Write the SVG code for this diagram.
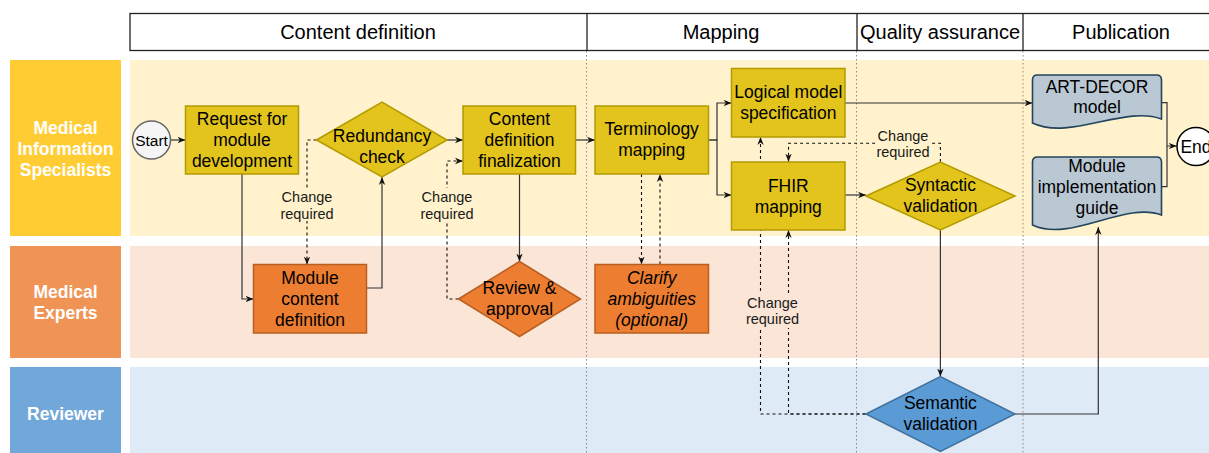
<svg xmlns="http://www.w3.org/2000/svg" width="1209" height="453" viewBox="0 0 1209 453">
<style>
text{font-family:"Liberation Sans",Arial,sans-serif;fill:#000;text-anchor:middle}
.hd{font-size:20px}
.lb{font-size:17.5px;font-weight:bold;fill:#fff}
.t{font-size:17.5px}
.it{font-size:17.5px;font-style:italic}
.cr{font-size:14.5px;fill:#1a1a1a}
.sm{font-size:15.5px}
.ln{fill:none;stroke:#333;stroke-width:1.2}
.ds{fill:none;stroke:#111;stroke-width:1.1;stroke-dasharray:3 3}
.dv{stroke:#888;stroke-width:1;stroke-dasharray:1.5 2.5}
.yb{fill:#E3C41C;stroke:#B39A00;stroke-width:1.5}
.ob{fill:#ED7D31;stroke:#B85F22;stroke-width:1.5}
.doc{fill:#BAC8D3;stroke:#23445D;stroke-width:1.6}
</style>
<defs>
<marker id="a" viewBox="0 0 10 10" refX="10" refY="5" markerWidth="8" markerHeight="8" markerUnits="userSpaceOnUse" orient="auto">
<path d="M0,1 L10,5 L0,9 L3,5 z" fill="#111"/>
</marker>
</defs>
<rect width="1209" height="453" fill="#fff"/>
<g id="header">
<rect x="130" y="13.5" width="1090" height="37" fill="#fff" stroke="#222" stroke-width="1.3"/>
<line x1="587" y1="13.5" x2="587" y2="50.5" stroke="#222" stroke-width="1.3"/>
<line x1="857" y1="13.5" x2="857" y2="50.5" stroke="#222" stroke-width="1.3"/>
<line x1="1023" y1="13.5" x2="1023" y2="50.5" stroke="#222" stroke-width="1.3"/>
<text class="hd" x="358" y="39">Content definition</text>
<text class="hd" x="721" y="39">Mapping</text>
<text class="hd" x="940" y="39">Quality assurance</text>
<text class="hd" x="1121" y="39">Publication</text>
</g>
<g id="lanes">
<rect x="10" y="60" width="111" height="176" fill="#FFCD33"/>
<rect x="130" y="60" width="1079" height="176" fill="#FFF2CC"/>
<rect x="10" y="246" width="111" height="112" fill="#F09456"/>
<rect x="130" y="246" width="1079" height="112" fill="#FBE5D6"/>
<rect x="10" y="367" width="111" height="86" fill="#72A7DA"/>
<rect x="130" y="367" width="1079" height="86" fill="#DEEAF6"/>
<text class="lb" x="65.5" y="133.5">Medical</text>
<text class="lb" x="65.5" y="154.5">Information</text>
<text class="lb" x="65.5" y="175.5">Specialists</text>
<text class="lb" x="65.5" y="297.5">Medical</text>
<text class="lb" x="65.5" y="318.5">Experts</text>
<text class="lb" x="65.5" y="420">Reviewer</text>
<line class="dv" x1="586.5" y1="51" x2="586.5" y2="453"/>
<line class="dv" x1="856.5" y1="51" x2="856.5" y2="453"/>
<line class="dv" x1="1023" y1="51" x2="1023" y2="453"/>
</g>
<g id="connectors">
<path class="ln" d="M170,140 H185.5" marker-end="url(#a)"/>
<path class="ln" d="M447,140 H463" marker-end="url(#a)"/>
<path class="ln" d="M575.5,140 H595" marker-end="url(#a)"/>
<path class="ln" d="M242,174 V299 H253.5" marker-end="url(#a)"/>
<path class="ln" d="M366.5,288 H382 V177" marker-end="url(#a)"/>
<path class="ds" d="M316.5,140 H307 V264.5" marker-end="url(#a)"/>
<path class="ds" d="M458.5,299 H447 V161 H463" marker-end="url(#a)"/>
<path class="ln" d="M519.5,174 V261.5" marker-end="url(#a)"/>
<path class="ln" d="M708.5,140 H717 V103 H731.5" marker-end="url(#a)"/>
<path class="ln" d="M708.5,140 H717 V195 H731.5" marker-end="url(#a)"/>
<path class="ds" d="M641.5,174 V264.5" marker-end="url(#a)"/>
<path class="ds" d="M660,264.5 V174" marker-end="url(#a)"/>
<path class="ln" d="M845,103 H1032.5" marker-end="url(#a)"/>
<path class="ln" d="M845,195 H866" marker-end="url(#a)"/>
<path class="ds" d="M940.4,162 V143.3 H788.5 V161.7" marker-end="url(#a)"/>
<path class="ln" d="M940.4,230 V376.5" marker-end="url(#a)"/>
<path class="ds" d="M865.5,414 H760.5 V137" marker-end="url(#a)"/>
<path class="ds" d="M865.5,414 H788.5 V230" marker-end="url(#a)"/>
<path class="ln" d="M1015,414 H1098.3 V227" marker-end="url(#a)"/>
<path class="ln" d="M1162,102.7 H1167 V146 H1176.7" marker-end="url(#a)"/>
<path class="ln" d="M1162,186.7 H1167 V146"/>
<rect x="280" y="188" width="54" height="33" fill="#FFF2CC"/>
<text class="cr" x="307" y="201.5">Change</text>
<text class="cr" x="307" y="218.5">required</text>
<rect x="420" y="188" width="54" height="33" fill="#FFF2CC"/>
<text class="cr" x="447" y="201.5">Change</text>
<text class="cr" x="447" y="218.5">required</text>
<rect x="876" y="128" width="54" height="31" fill="#FFF2CC"/>
<text class="cr" x="903" y="140.5">Change</text>
<text class="cr" x="903" y="157">required</text>
<rect x="745.5" y="294" width="54" height="34" fill="#FBE5D6"/>
<text class="cr" x="772.5" y="307.5">Change</text>
<text class="cr" x="772.5" y="324">required</text>
</g>
<g id="start">
<circle cx="151.5" cy="140" r="19" fill="#F5F5F5" stroke="#666" stroke-width="1.5"/>
<text class="sm" x="151.5" y="145.5">Start</text>
</g>
<g id="request">
<rect class="yb" x="185.5" y="106" width="113" height="68"/>
<text class="t" x="242" y="124.5">Request for</text>
<text class="t" x="242" y="145.5">module</text>
<text class="t" x="242" y="166.5">development</text>
</g>
<g id="redundancy">
<polygon class="yb" points="316.5,140 382,102 447,140 382,177"/>
<text class="t" x="382" y="141.5">Redundancy</text>
<text class="t" x="382" y="162.5">check</text>
</g>
<g id="contentdef">
<rect class="yb" x="463" y="106" width="112.5" height="68"/>
<text class="t" x="519.5" y="125">Content</text>
<text class="t" x="519.5" y="146">definition</text>
<text class="t" x="519.5" y="167">finalization</text>
</g>
<g id="modulecontent">
<rect class="ob" x="253.5" y="264.5" width="113" height="68.5"/>
<text class="t" x="310" y="283.5">Module</text>
<text class="t" x="310" y="304.5">content</text>
<text class="t" x="310" y="325.5">definition</text>
</g>
<g id="review">
<polygon class="ob" points="458.5,299 519.5,261.5 580.5,299 519.5,336.5"/>
<text class="t" x="519.5" y="294">Review &amp;</text>
<text class="t" x="519.5" y="315">approval</text>
</g>
<g id="terminology">
<rect class="yb" x="595" y="106" width="113.5" height="68"/>
<text class="t" x="651.7" y="135">Terminology</text>
<text class="t" x="651.7" y="156">mapping</text>
</g>
<g id="clarify">
<rect class="ob" x="595" y="264.5" width="113.5" height="68.5"/>
<text class="it" x="651.7" y="284">Clarify</text>
<text class="it" x="651.7" y="305">ambiguities</text>
<text class="it" x="651.7" y="326">(optional)</text>
</g>
<g id="logical">
<rect class="yb" x="731.5" y="68.5" width="113.5" height="68.5"/>
<text class="t" x="788.3" y="97.7">Logical model</text>
<text class="t" x="788.3" y="118.7">specification</text>
</g>
<g id="fhir">
<rect class="yb" x="731.5" y="162" width="113.5" height="68"/>
<text class="t" x="788.3" y="191.7">FHIR</text>
<text class="t" x="788.3" y="212.7">mapping</text>
</g>
<g id="syntactic">
<polygon class="yb" points="866,196 940.4,162 1015,196 940.4,230"/>
<text class="t" x="940.4" y="190.7">Syntactic</text>
<text class="t" x="940.4" y="211.7">validation</text>
</g>
<g id="semantic">
<polygon points="866,414 940.4,376.5 1015,414 940.4,451.5" fill="#5B9BD5" stroke="#41719C" stroke-width="1.5"/>
<text class="t" x="940.4" y="409">Semantic</text>
<text class="t" x="940.4" y="430">validation</text>
</g>
<g id="artdecor">
<path class="doc" d="M1032.5,123 V80 Q1032.5,75 1037.5,75 H1156.5 Q1161.5,75 1161.5,80 V119 C1125,105 1070,141 1032.5,123 Z"/>
<text class="t" x="1097" y="92.5">ART-DECOR</text>
<text class="t" x="1097" y="113.3">model</text>
</g>
<g id="guide">
<path class="doc" d="M1032.5,225 V162 Q1032.5,157 1037.5,157 H1156.5 Q1161.5,157 1161.5,162 V215 C1125,201 1070,243 1032.5,225 Z"/>
<text class="t" x="1097" y="171.7">Module</text>
<text class="t" x="1097" y="193">implementation</text>
<text class="t" x="1097" y="214.3">guide</text>
</g>
<g id="end">
<circle cx="1196" cy="146.5" r="19" fill="#fff" stroke="#000" stroke-width="1.5"/>
<text class="t" x="1196" y="152.5">End</text>
</g>
</svg>
